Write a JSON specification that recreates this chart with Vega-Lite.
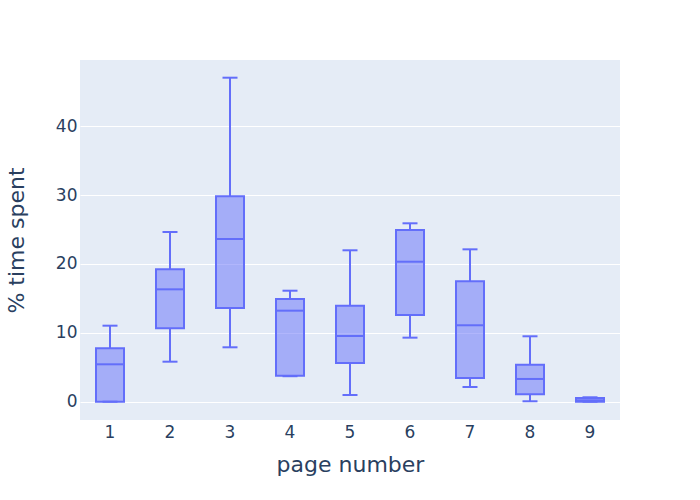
{
  "$schema": "https://vega.github.io/schema/vega-lite/v6.json",
  "width": 540,
  "height": 360,
  "autosize": "none",
  "padding": {"left": 80, "top": 60, "right": 80, "bottom": 80},
  "background": "white",
  "config": {
    "view": {"fill": "#E5ECF6", "stroke": null},
    "font": "DejaVu Sans"
  },
  "data": {
    "values": [
      {"page": "1", "min": 0.0, "q1": 0.0, "median": 5.43, "q3": 7.75, "max": 11.04},
      {"page": "2", "min": 5.81, "q1": 10.66, "median": 16.32, "q3": 19.23, "max": 24.65},
      {"page": "3", "min": 7.9, "q1": 13.61, "median": 23.63, "q3": 29.83, "max": 47.06},
      {"page": "4", "min": 3.7, "q1": 3.78, "median": 13.22, "q3": 14.92, "max": 16.12},
      {"page": "5", "min": 0.97, "q1": 5.62, "median": 9.54, "q3": 13.94, "max": 21.99},
      {"page": "6", "min": 9.3, "q1": 12.59, "median": 20.33, "q3": 24.94, "max": 25.91},
      {"page": "7", "min": 2.13, "q1": 3.44, "median": 11.1, "q3": 17.49, "max": 22.13},
      {"page": "8", "min": 0.06, "q1": 1.07, "median": 3.3, "q3": 5.37, "max": 9.5},
      {"page": "9", "min": 0.0, "q1": 0.0, "median": 0.2, "q3": 0.54, "max": 0.64}
    ]
  },
  "encoding": {
    "x": {
      "field": "page",
      "type": "ordinal",
      "sort": null,
      "title": "page number",
      "scale": {"paddingInner": 0.5, "paddingOuter": 0.25},
      "axis": {
        "labelAngle": 0,
        "ticks": false,
        "domain": false,
        "grid": false,
        "labelFontSize": 17,
        "labelColor": "#2a3f5f",
        "labelPadding": 4,
        "titleFontSize": 22,
        "titleFontWeight": "normal",
        "titleColor": "#2a3f5f",
        "titlePadding": 14
      }
    }
  },
  "layer": [
    {
      "mark": {"type": "rule", "color": "#636efa", "strokeWidth": 2},
      "encoding": {
        "y": {
          "field": "min",
          "type": "quantitative",
          "title": "% time spent",
          "scale": {"domain": [-2.66, 49.63], "nice": false, "zero": false},
          "axis": {
            "values": [0, 10, 20, 30, 40],
            "ticks": false,
            "domain": false,
            "gridColor": "white",
            "gridWidth": 1,
            "labelFontSize": 17,
            "labelColor": "#2a3f5f",
            "labelPadding": 3,
            "titleFontSize": 22,
            "titleFontWeight": "normal",
            "titleColor": "#2a3f5f",
            "titlePadding": 27
          }
        },
        "y2": {"field": "q1"}
      }
    },
    {
      "mark": {"type": "rule", "color": "#636efa", "strokeWidth": 2},
      "encoding": {
        "y": {"field": "q3", "type": "quantitative"},
        "y2": {"field": "max"}
      }
    },
    {
      "mark": {"type": "tick", "color": "#636efa", "thickness": 2, "size": 15, "opacity": 1},
      "encoding": {"y": {"field": "min", "type": "quantitative"}}
    },
    {
      "mark": {"type": "tick", "color": "#636efa", "thickness": 2, "size": 15, "opacity": 1},
      "encoding": {"y": {"field": "max", "type": "quantitative"}}
    },
    {
      "mark": {"type": "bar", "fill": "#636efa", "fillOpacity": 0.5, "stroke": "#636efa", "strokeWidth": 2, "width": 28},
      "encoding": {
        "y": {"field": "q1", "type": "quantitative"},
        "y2": {"field": "q3"}
      }
    },
    {
      "mark": {"type": "tick", "color": "#636efa", "thickness": 2, "size": 28, "opacity": 1},
      "encoding": {"y": {"field": "median", "type": "quantitative"}}
    }
  ]
}
